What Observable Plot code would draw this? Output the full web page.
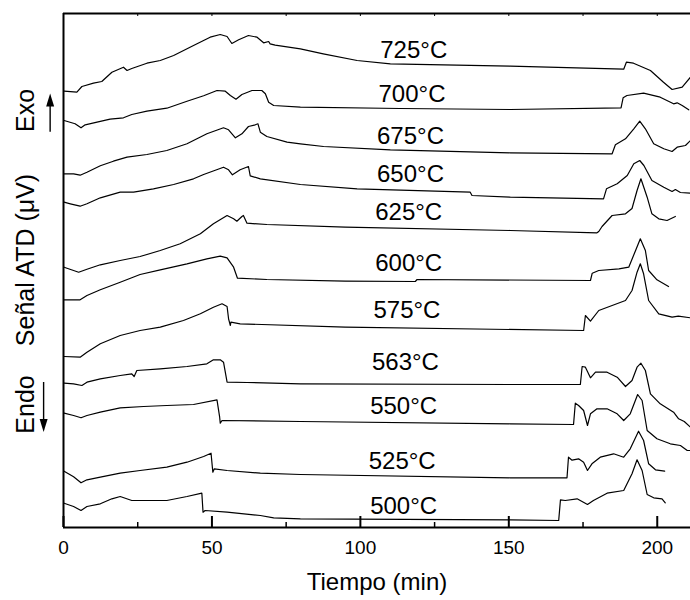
<!DOCTYPE html>
<html>
<head>
<meta charset="utf-8">
<script src="https://cdn.jsdelivr.net/npm/d3@7"></script>
<script src="https://cdn.jsdelivr.net/npm/@observablehq/plot@0.6"></script>
<style>
  html, body { margin: 0; padding: 0; background: #fff; }
</style>
</head>
<body>
<div id="chart"></div>
<script>
// Time (min) vs. DTA signal (arbitrary offset units), one array per isothermal temperature
const c725 = [[0.2,436.3],[4.5,435.3],[6.2,441],[10.1,444.3],[12.9,446],[16.3,455.3],[20.2,460.3],[21.4,457],[23,459],[28.1,464.3],[32.6,467],[37.1,472],[43.8,482],[49.4,490.3],[52.8,493],[55.1,491],[56.7,484],[59,487.7],[62.3,492],[65.2,490.3],[67.4,484.7],[69.1,486],[69.6,483.7],[71.3,482.3],[79.8,478.7],[87.5,473.7],[98.9,467],[110.1,463.7],[150.5,461.3],[188.7,458.3],[189.6,465.3],[192,464.3],[197.7,457],[202.1,445.3],[205,438],[208.4,440.3],[211.2,450.3]];
const c700 = [[0.2,407],[3.9,403.7],[5.9,399.7],[7.3,402.7],[11.3,405.3],[15.7,408.3],[20.2,409.7],[23,413],[28.1,416.3],[34.8,419.3],[41.6,426.3],[47.2,431.7],[51.7,437],[54.5,436.3],[56.2,432],[58.1,428.3],[60.1,433],[63.5,437],[66.8,437],[68,433.7],[69.1,425.3],[70.8,422],[79.8,420.3],[113.4,419],[150.5,418],[187.8,419.7],[188.5,429.7],[189.8,432],[195.4,434.3],[201,430.3],[205.5,423.7],[206.7,424.7],[208.4,422],[210.6,417.7]];
const c675 = [[0.2,353.7],[3.4,353.7],[5.6,352.3],[7.9,355.3],[12.4,361.7],[16.8,366.3],[21.4,370.3],[28.1,373],[34.8,377],[41.6,383.7],[48.3,393.7],[53.9,399.7],[55.6,397.7],[57.9,389.7],[60.1,393.7],[62.3,401],[64.6,402.7],[65.5,403.7],[66.3,395.3],[68.5,391],[75.3,385.3],[79.8,383.7],[87.6,381],[110.1,377.7],[150.5,374.7],[184.8,373.7],[185.9,382.7],[189.3,388.7],[192.1,398.7],[194.1,406.3],[196,398.7],[198.8,383.7],[202.2,378.7],[205,376],[206.7,380.3],[209.5,382],[211.2,387]];
const c650 = [[0.2,325.3],[2.3,323.7],[5.6,321.3],[7.9,323.7],[12.4,329.7],[19.1,335.3],[23.6,335.3],[30.3,338.7],[37.1,343],[43.8,348.7],[47.2,353],[53.9,360.3],[55.6,357.7],[56.9,352.7],[59.5,357.7],[62.3,361],[62.9,351.7],[66.3,348.7],[79.8,343],[98.9,338.7],[137,335.3],[137.6,332],[150.5,330.3],[181.9,328.7],[182.9,338.7],[186.5,343.7],[189.9,352],[192.1,363.7],[194.1,367],[195.5,362],[198.2,347],[202.2,340.3],[205,336],[206.1,338],[207.8,335],[211.2,334.3]];
const c625 = [[0.2,260.3],[5.1,255.3],[7.9,258.3],[12.4,262.7],[19.1,267],[25.8,271],[32.6,277],[39.3,283.7],[46.1,293.7],[50.5,303.7],[55.1,312],[57.3,308.7],[58.4,306.3],[60.1,311],[60.6,312],[61.8,304.3],[68.5,303],[94.9,300.3],[150.5,297],[179.7,294.7],[180.3,296],[181.4,301],[184.8,312],[189.3,313.7],[191.5,319],[193.2,337],[194.5,348.7],[196.6,330.3],[198.2,313.7],[200.5,308.7],[203.3,307],[206.1,311]];
const c600 = [[0.2,227.7],[5.6,227.7],[7.9,232],[12.4,237.7],[19.1,245.3],[25.8,253],[32.6,257.7],[41.6,263.7],[48.3,268.7],[52.8,271.3],[55.1,269.7],[57.3,260.3],[58.6,249.3],[68.5,248],[94.9,246.3],[118.5,246],[119.1,248],[177.5,247],[178.1,254.3],[180.3,257],[187.1,258.7],[190.4,260.3],[192.7,277],[194.3,288.7],[196,277],[197.1,257],[199.9,247.7],[203.8,241]];
const c575 = [[0.2,171],[5.6,170.3],[7.9,175.3],[12.4,183.7],[19.1,192],[25.8,197],[32.6,200.3],[40.4,207],[46.1,213.7],[50.5,220.3],[53.4,223.7],[55.1,221],[55.6,208.7],[56.2,202],[56.4,205.3],[59.5,203.7],[94.9,200.3],[175.2,197],[175.8,212],[177.5,206.3],[180.3,217],[184.8,222],[189.3,227],[191.5,237],[193.2,255.3],[194.3,263.7],[195.4,253.7],[197.1,227],[200.5,213.7],[205,210.3],[207.1,211.3],[211.2,209.7]];
const c563 = [[0.2,144.3],[3.4,143.7],[6.2,142],[7.9,145.3],[12.4,148.7],[19.1,152],[23,153.7],[23.8,151],[24.7,157],[32.6,158.7],[41.6,161],[48.3,163.7],[50.5,167.7],[52.8,167.7],[53.9,165.3],[55.1,145.3],[61.8,145],[79.8,143.7],[150.5,143],[174.1,143],[174.7,161],[175.8,160.3],[177.5,149.7],[179.2,155.3],[183.1,155.3],[186.5,150.3],[189.3,141],[191.5,147],[193.2,160.3],[194.5,164.3],[196,157],[197.7,133.7],[201,123.7],[205.5,115.3],[207.2,108.7],[209.1,106],[211.2,100.3]];
const c550 = [[0.2,114.3],[3.4,112],[5.9,109.7],[7.9,112],[12.4,115.3],[19.1,119.7],[27,121],[34.8,122],[43.8,123],[51.7,127.7],[52.6,110.3],[52.8,104.3],[53.4,107],[79.8,106],[150.5,103.7],[171.8,103],[172.4,124.3],[173.5,122],[175.2,117],[176.5,102],[177.5,113.7],[179.7,118.7],[183.1,118.7],[186.5,113.7],[188.7,107],[190.9,113.7],[193.4,133],[194.9,127],[196.6,97],[199.9,88.7],[204.4,83.7],[207.8,82],[210.1,77],[211.2,77]];
const c525 = [[0.2,56.3],[3.4,50.7],[5.9,44.7],[7.9,47.7],[12.4,50.3],[19.1,54.3],[25.8,57],[34.8,60.3],[41.6,65.3],[47.2,71],[49.7,74.3],[50.3,55.3],[50.8,58.7],[55.1,57],[66.3,54.3],[79.8,53],[150.5,49.7],[169.6,49.7],[170.1,70.3],[171.3,67.3],[173.5,68.7],[175.2,65.3],[176.5,57],[178,63.7],[180.8,70.3],[185.3,73.7],[188.7,70.3],[190.9,78.7],[193.7,96.3],[195.4,87],[197.1,63.7],[199.4,57.7],[202.5,56.3]];
const c500 = [[0.2,24.3],[3.4,21],[5.9,17],[7.9,21],[12.4,23.7],[16.3,28.7],[19.1,31],[23,27],[28.1,27],[34.8,27],[41.6,31],[46.6,34.3],[47,15.3],[47.7,17],[55.1,15.3],[66.3,12],[70.8,9.7],[79.8,8.7],[150.5,7.7],[166.8,7],[167.4,27.7],[169,27],[173,28.7],[176.5,23],[178.5,27],[183.1,34.3],[188.7,37],[191.5,53.7],[193.2,67.7],[194.9,57],[196.6,33],[198.8,29.7],[201.6,28.7],[202.7,24.7]];

const seriesNames = ["725°C","700°C","675°C","650°C","625°C","600°C","575°C","563°C","550°C","525°C","500°C"];
const seriesData = [c725, c700, c675, c650, c625, c600, c575, c563, c550, c525, c500];

// label anchor points (time, signal) for each curve's temperature label
const labelTime = [106.7, 106.1, 105.6, 105.6, 105, 105, 104.4, 103.9, 103.3, 102.8, 103.3];
const labelSignal = [477.4, 433, 391.4, 353, 314.7, 264, 217.4, 164.7, 120.7, 66.4, 21.4];

const xTickValues = [0, 50, 100, 150, 200];
const xMinorTicks = [25, 75, 125, 175];
const xAllTicks = [0, 25, 50, 75, 100, 125, 150, 175, 200];

const yLabelTexts = ["Exo", "Señal ATD (μV)", "Endo"];
const yLabelSignal = [417, 267.5, 123];

const rows = seriesData.flatMap((arr, i) => arr.map(([t, v]) => ({series: seriesNames[i], t, v})));
const labels = seriesNames.map((s, i) => ({text: s, t: labelTime[i], v: labelSignal[i]}));
const yLabels = yLabelTexts.map((s, i) => ({text: s, v: yLabelSignal[i]}));

// arrows beside Exo / Endo
const arrowShafts = [{x: -4.5, y1: 395.3, y2: 424}, {x: -6.7, y1: 145, y2: 106}];
const arrowUp = {draw(ctx) { ctx.moveTo(0, -8); ctx.lineTo(4, 5); ctx.lineTo(-4, 5); ctx.closePath(); }};
const arrowDown = {draw(ctx) { ctx.moveTo(0, 8); ctx.lineTo(4, -5); ctx.lineTo(-4, -5); ctx.closePath(); }};

const font = "'Liberation Sans', Arial, Helvetica, sans-serif";

const chart = Plot.plot({
  width: 690,
  height: 600,
  marginLeft: 63,
  marginRight: 0,
  marginTop: 13,
  marginBottom: 73,
  style: {fontFamily: font, fontSize: "19px", color: "#000", background: "#fff", overflow: "visible"},
  x: {domain: [0, 211.2], ticks: xTickValues, tickSize: 0, tickPadding: 13, label: null},
  y: {domain: [0, 514], axis: null},
  marks: [
    Plot.line(rows, {x: "t", y: "v", z: "series", stroke: "#000", strokeWidth: 1.2, curve: "linear"}),
    Plot.text(labels, {x: "t", y: "v", text: "text", textAnchor: "start", lineAnchor: "middle", fontSize: 24, fill: "#000"}),
    // frame
    Plot.ruleY([0], {stroke: "#000", strokeWidth: 2}),
    Plot.ruleY([514], {stroke: "#000", strokeWidth: 2}),
    Plot.ruleX([0], {stroke: "#000", strokeWidth: 2}),
    // ticks
    Plot.ruleX(xTickValues, {stroke: "#000", strokeWidth: 2, insetTop: 503}),
    Plot.ruleX(xMinorTicks, {stroke: "#000", strokeWidth: 1.5, insetTop: 509}),
    Plot.ruleX(xAllTicks, {stroke: "#000", strokeWidth: 1, insetBottom: 511}),
    // axis title
    Plot.text(["Tiempo (min)"], {frameAnchor: "bottom", text: d => d, dy: 55, lineAnchor: "middle", fontSize: 24, fill: "#000"}),
    // y title pieces
    Plot.text(yLabels, {frameAnchor: "left", y: "v", text: "text", rotate: -90, dx: -38, lineAnchor: "middle", textAnchor: "middle", fontSize: 25, fill: "#000"}),
    Plot.ruleX(arrowShafts, {x: "x", y1: "y1", y2: "y2", stroke: "#000", strokeWidth: 1.4, clip: false}),
    Plot.dot([{x: -4.5, y: 426}], {x: "x", y: "y", symbol: arrowUp, fill: "#000", stroke: null, r: 4}),
    Plot.dot([{x: -6.7, y: 103.5}], {x: "x", y: "y", symbol: arrowDown, fill: "#000", stroke: null, r: 4})
  ]
});
document.getElementById("chart").appendChild(chart);
</script>
</body>
</html>
